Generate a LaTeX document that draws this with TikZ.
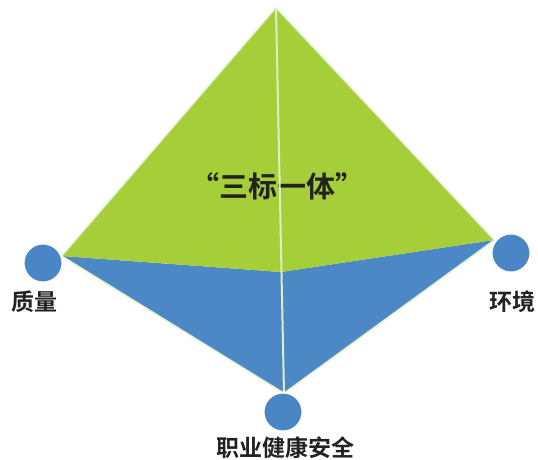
\documentclass[tikz,border=0pt]{standalone}
\usepackage{fontspec}
\newfontfamily\cjk{Noto Sans CJK SC}[BoldFont={Noto Sans CJK SC Bold}]
\begin{document}
\begin{tikzpicture}[x=1pt,y=-1pt,
  face/.style={draw=edgecol, line width=1.2pt, line join=round},
  ball/.style={circle, fill=ballblue, draw=white, line width=2pt, minimum size=39pt, inner sep=0pt},
  lab/.style={font=\cjk\bfseries\fontsize{23}{23}\selectfont, text=labcol, inner sep=0pt}]
\definecolor{leafgreen}{HTML}{A6CE39}
\definecolor{skyblue}{HTML}{4C87C6}
\definecolor{ballblue}{HTML}{4A86C5}
\definecolor{edgecol}{HTML}{DCEEC6}
\definecolor{labcol}{HTML}{222222}
\fill[white] (0,0) rectangle (538,460);
\useasboundingbox (0,0) rectangle (538,460);
\coordinate (top) at (276,8);
\coordinate (lft) at (62,256);
\coordinate (mid) at (281,272);
\coordinate (rgt) at (494,240);
\coordinate (bot) at (284,393);
\fill[skyblue] (lft) -- (mid) -- (rgt) -- (bot) -- cycle;
\fill[leafgreen] (lft) -- (top) -- (rgt) -- (mid) -- cycle;
\draw[face] (lft) -- (top) -- (rgt) -- (bot) -- cycle;
\node[font=\cjk\bfseries\fontsize{29}{29}\selectfont, text=labcol] (title) at (277,186) {“三标一体”};
\draw[edgecol, line width=2pt] (top) -- (bot);
\node[ball] (bq) at (43,263) {};
\node[ball] (be) at (511,253) {};
\node[ball] (bs) at (283,412) {};
\node[lab] (tq) at (35,302) {质量};
\node[lab] (te) at (512,302) {环境};
\node[lab] (ts) at (285,448) {职业健康安全};
\end{tikzpicture}
\end{document}
